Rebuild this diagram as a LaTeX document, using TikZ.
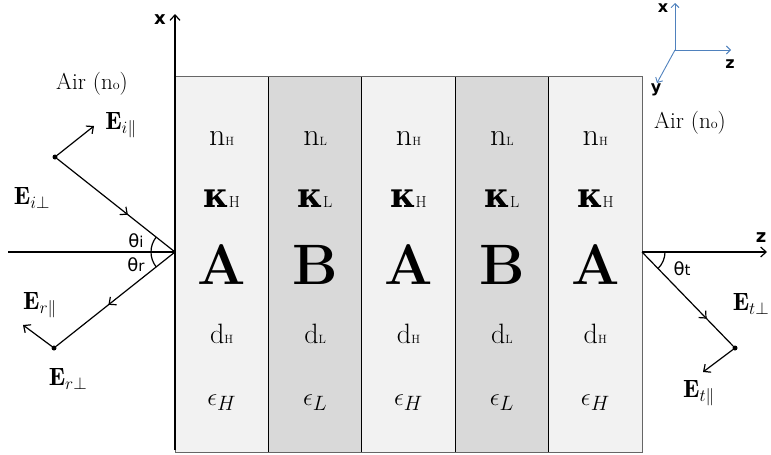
\documentclass[tikz,border=0pt]{standalone}
\usepackage{amsmath,amssymb}
\usepackage{fontspec}
\newfontfamily\dvsans{DejaVu Sans}
\newfontfamily\dvserif{DejaVu Serif}
\usetikzlibrary{arrows.meta,decorations.markings,positioning}

\definecolor{layerA}{HTML}{F2F2F2}
\definecolor{layerB}{HTML}{D9D9D9}
\definecolor{axisblue}{HTML}{4F81BD}

\newcommand{\lsub}[2]{{\fontsize{#1}{#1}\selectfont #2}}
\newcommand{\thlab}[1]{{\dvsans\fontsize{18}{18}\selectfont θ\lsub{15}{#1}}}

\tikzset{
  barb/.style={-{Straight Barb[length=5.5pt,width=10pt]}},
  line/.style={line width=1.2pt},
  vec/.style={line, barb},
  ray/.style={line, decoration={markings,
      mark=at position #1 with {\arrow{Straight Barb[length=5.5pt,width=10pt]}}},
    postaction=decorate},
  dot/.style={circle, fill, inner sep=0pt, minimum size=5pt},
  axlbl/.style={font=\dvsans\bfseries\fontsize{18}{18}\selectfont, inner sep=0pt},
  trilbl/.style={font=\dvsans\bfseries\fontsize{16}{16}\selectfont, inner sep=0pt},
  evec/.style={font=\fontsize{25}{25}\selectfont, inner sep=0pt},
  air/.style={font=\fontsize{23}{23}\selectfont, inner sep=0pt},
  cell/.style={anchor=base, inner sep=0pt}
}

\begin{document}
\begin{tikzpicture}[x=1pt,y=-1pt]
  \useasboundingbox (0,0) rectangle (771,455);

  % layers A B A B A
  \foreach \x/\c in {175/layerA,268.4/layerB,361.8/layerA,455.2/layerB,548.6/layerA}
    \fill[\c] (\x,76) rectangle ++(93.4,376);
  \foreach \x in {268.4,361.8,455.2,548.6}
    \draw[line width=0.9pt] (\x,76) -- (\x,452);
  \draw[line width=1pt, black!60] (175,76) rectangle (642,452);

  \foreach \i/\x/\l/\s in {1/221.7/A/H,2/315.1/B/L,3/408.5/A/H,4/501.9/B/L,5/595.3/A/H} {
    \node[cell] (n\i) at (\x,145) {\fontsize{32}{32}\selectfont n\lsub{12}{\s}};
    \node[cell] (k\i) at (\x,207) {{\dvserif\bfseries\fontsize{34}{34}\selectfont κ}\lsub{16}{\s}};
    \node[cell] (m\i) at (\x,284) {\bfseries\fontsize{57}{57}\selectfont \l};
    \node[cell] (d\i) at (\x,343) {\fontsize{28}{28}\selectfont d\lsub{12}{\s}};
    \node[cell] (e\i) at (\x,405) {\fontsize{32}{32}\selectfont $\epsilon_\s$};
  }

  % axes
  \coordinate (O) at (175,252);
  \coordinate (Ot) at (642,252);
  \coordinate (xbot) at (175,450);
  \coordinate (xtop) at (175,14);
  \coordinate (zl) at (8,252);
  \coordinate (zr) at (767,252);
  \draw[vec] (xbot) -- (xtop);
  \node[axlbl] (xl) at (160,20) {x};
  \draw[line] (zl) -- (O);
  \draw[vec] (Ot) -- (zr);
  \node[axlbl] (zlab) at (761,238) {z};

  % incident
  \node[dot] (di) at (55,157) {};
  \coordinate (ipar) at (94,126);
  \draw[ray=0.6] (di) -- (O);
  \draw[vec] (di) -- (ipar);
  \node[evec] (Eipar) at (121,125) {$\mathbf{E}_{i\parallel}$};
  \node[evec] (Eiperp) at (32,198) {$\mathbf{E}_{i\perp}$};

  % reflected
  \node[dot] (dr) at (54,348) {};
  \coordinate (rpar) at (23,325);
  \draw[ray=0.56] (O) -- (dr);
  \draw[vec] (dr) -- (rpar);
  \node[evec] (Erpar) at (40,305) {$\mathbf{E}_{r\parallel}$};
  \node[evec] (Erperp) at (68,379) {$\mathbf{E}_{r\perp}$};

  \draw[line] (O) ++(141.6:24) arc[start angle=141.6, end angle=218.4, radius=24];
  \node (thi) at (136,241) {\thlab{i}};
  \node (thr) at (136,265) {\thlab{r}};

  % transmitted
  \node[dot] (dt) at (735,348) {};
  \coordinate (tpar) at (703,372);
  \draw[ray=0.71] (Ot) -- (dt);
  \draw[vec] (dt) -- (tpar);
  \node[evec] (Etperp) at (751,304) {$\mathbf{E}_{t\perp}$};
  \node[evec] (Etpar) at (699,393) {$\mathbf{E}_{t\parallel}$};
  \draw[line] (Ot) ++(0:23) arc[start angle=0, end angle=45.9, radius=23];
  \node (tht) at (682,269) {\thlab{t}};

  % air
  \node[air] (airl) at (92,84) {Air (n\lsub{14}{o})};
  \node[air] (airr) at (690,123) {Air (n\lsub{14}{o})};

  % xyz triad
  \coordinate (tri) at (675,50);
  \coordinate (tx) at (675,3);
  \coordinate (tz) at (731,50);
  \coordinate (ty) at (657,83);
  \draw[axisblue, line width=0.9pt, -{Straight Barb[length=4pt,width=8pt]}] (tri) -- (tx);
  \draw[axisblue, line width=0.9pt, -{Straight Barb[length=4pt,width=8pt]}] (tri) -- (tz);
  \draw[axisblue, line width=0.9pt, -{Straight Barb[length=4pt,width=8pt]}] (tri) -- (ty);
  \node[trilbl] (txl) at (663,8) {x};
  \node[trilbl] (tzl) at (730,64) {z};
  \node[trilbl] (tyl) at (656,90) {y};
\end{tikzpicture}
\end{document}
